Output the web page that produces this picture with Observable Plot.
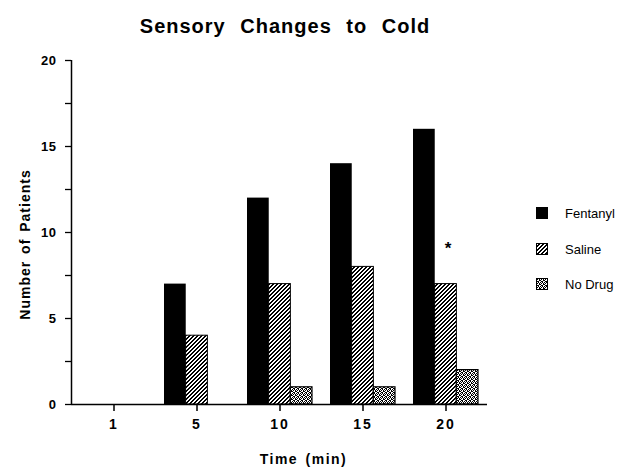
<!DOCTYPE html>
<html>
<head>
<meta charset="utf-8">
<script src="https://cdn.jsdelivr.net/npm/d3@7"></script>
<script src="https://cdn.jsdelivr.net/npm/@observablehq/plot@0.6"></script>
<style>
  html, body { margin: 0; padding: 0; background: #fff; }
  #wrap { position: relative; width: 628px; height: 467px; font-family: "Liberation Sans", Arial, sans-serif; color: #000; }
  #title { position: absolute; left: 0; top: 0; width: 570px; height: 45px; text-align: center;
    font-size: 20px; font-weight: bold; letter-spacing: 1px; word-spacing: 8px; line-height: 20px; padding-top: 16px; box-sizing: border-box; }
  #chart { position: absolute; left: 0; top: 45px; }
  #legend { position: absolute; left: 0; top: 0; }
  .item { position: absolute; font-size: 13px; line-height: 13px; }
  .item svg { position: absolute; left: 0; top: 0; }
  .item span { position: absolute; left: 29px; top: 0px; white-space: nowrap; }
  .ylab text { letter-spacing: 1px; word-spacing: 2px; }
  .xlab text { letter-spacing: 1.5px; word-spacing: 2px; }
  .xtl text { letter-spacing: 2px; }
  .ytl text { letter-spacing: 0.5px; }
</style>
</head>
<body>
<svg width="0" height="0" style="position:absolute">
  <defs>
    <pattern id="hatch" patternUnits="userSpaceOnUse" width="4" height="4">
      <rect width="4" height="4" fill="#fff"/>
      <g fill="#000" shape-rendering="crispEdges">
        <rect x="3" y="0" width="1" height="1"/><rect x="0" y="0" width="1" height="1"/>
        <rect x="2" y="1" width="1" height="1"/><rect x="3" y="1" width="1" height="1"/>
        <rect x="1" y="2" width="1" height="1"/><rect x="2" y="2" width="1" height="1"/>
        <rect x="0" y="3" width="1" height="1"/><rect x="1" y="3" width="1" height="1"/>
      </g>
    </pattern>
    <pattern id="stipple" patternUnits="userSpaceOnUse" width="4" height="4">
      <rect width="4" height="4" fill="#fff"/>
      <g fill="#000" shape-rendering="crispEdges">
        <rect x="0" y="0" width="1" height="1"/>
        <rect x="2" y="0" width="1" height="1"/>
        <rect x="1" y="1" width="1" height="1"/>
        <rect x="3" y="2" width="1" height="1"/>
        <rect x="0" y="2" width="1" height="1"/>
        <rect x="2" y="3" width="1" height="1"/>
        <rect x="1" y="3" width="1" height="1"/>
        <rect x="3" y="1" width="1" height="1"/>
      </g>
    </pattern>
  </defs>
</svg>
<div id="wrap">
  <div id="title">Sensory Changes to Cold</div>
  <div id="chart"></div>
  <div id="legend"></div>
</div>
<script>
// ---- data ----
const times = ["1", "5", "10", "15", "20"];
const fentanyl = [0, 7, 12, 14, 16];
const saline = [0, 4, 7, 8, 7];
const noDrug = [0, 0, 1, 1, 2];
const seriesNames = ["Fentanyl", "Saline", "No Drug"];
const yMajorTicks = [0, 5, 10, 15, 20];
const yMinorTicks = [0, 2.5, 5, 7.5, 10, 12.5, 15, 17.5, 20];
const starTime = "20";
const starValue = 9.3;

const table = times.map((t, i) => ({time: t, fentanyl: fentanyl[i], saline: saline[i], noDrug: noDrug[i]}));

// ---- layout ----
const W = 628, H = 422;
const mL = 71, mR = 141, mT = 15, mB = 63;
const padInner = 0.22, padOuter = 0.11;
const step = (W - mL - mR) / (times.length - padInner + 2 * padOuter);
const bw = step * (1 - padInner) / 3;

const font = "Liberation Sans, Arial, sans-serif";

const plot = Plot.plot({
  width: W, height: H,
  marginLeft: mL, marginRight: mR, marginTop: mT, marginBottom: mB,
  style: {fontFamily: font, background: "#fff", color: "#000", overflow: "visible"},
  x: {type: "band", domain: times, paddingInner: padInner, paddingOuter: padOuter, axis: null},
  y: {domain: [0, 20], axis: null},
  marks: [
    Plot.barY(table, {x: "time", y: "fentanyl", fill: "#000", insetLeft: 0, insetRight: 2 * bw}),
    Plot.barY(table, {x: "time", y: "saline", fill: "url(#hatch)", stroke: "#000", strokeWidth: 1, insetLeft: bw, insetRight: bw}),
    Plot.barY(table.filter(d => d.noDrug > 0), {x: "time", y: "noDrug", fill: "url(#stipple)", stroke: "#000", strokeWidth: 1.2, insetLeft: 2 * bw, insetRight: 0}),
    // tick marks
    Plot.axisY({ticks: yMinorTicks, tickSize: 6, tickFormat: () => "", label: null, strokeWidth: 1.3}),
    Plot.axisX({tickSize: 7, tickFormat: () => "", label: null, strokeWidth: 1.5}),
    // tick labels
    Plot.text(yMajorTicks, {y: d => d, frameAnchor: "left", textAnchor: "end", lineAnchor: "middle", dx: -15, fontSize: 13, fontWeight: "bold", className: "ytl"}),
    Plot.text(times, {x: d => d, frameAnchor: "bottom", lineAnchor: "top", dy: 15, fontSize: 14, fontWeight: "bold", className: "xtl"}),
    // axis lines
    Plot.ruleY([0], {strokeWidth: 1.5}),
    Plot.ruleX([0], {y1: 0, y2: 20, x: null, dx: mL - (mL + W - mR) / 2, strokeWidth: 1.5}),
    Plot.text([{time: starTime, v: starValue}], {x: "time", y: "v", text: () => "*", fontSize: 17, fontWeight: "bold", dx: 2, dy: 4}),
    Plot.text(["Number of Patients"], {frameAnchor: "left", textAnchor: "middle", rotate: -90, dx: 25 - mL, dy: 12, fontSize: 14, fontWeight: "bold", className: "ylab"}),
    Plot.text(["Time (min)"], {frameAnchor: "bottom", dx: 24, dy: 59, lineAnchor: "bottom", fontSize: 14, fontWeight: "bold", className: "xlab"})
  ]
});
document.getElementById("chart").appendChild(plot);

// ---- legend ----
const fills = ["#000", "url(#hatch)", "url(#stipple)"];
const legend = document.getElementById("legend");
seriesNames.forEach((name, i) => {
  const item = document.createElement("div");
  item.className = "item";
  item.style.left = "536px";
  item.style.top = (207 + i * 35.5) + "px";
  item.innerHTML = `<svg width="13" height="13"><rect x="0.5" y="0.5" width="11" height="11" fill="${fills[i]}" stroke="#000" stroke-width="1"/></svg><span>${name}</span>`;
  legend.appendChild(item);
});
</script>
</body>
</html>
